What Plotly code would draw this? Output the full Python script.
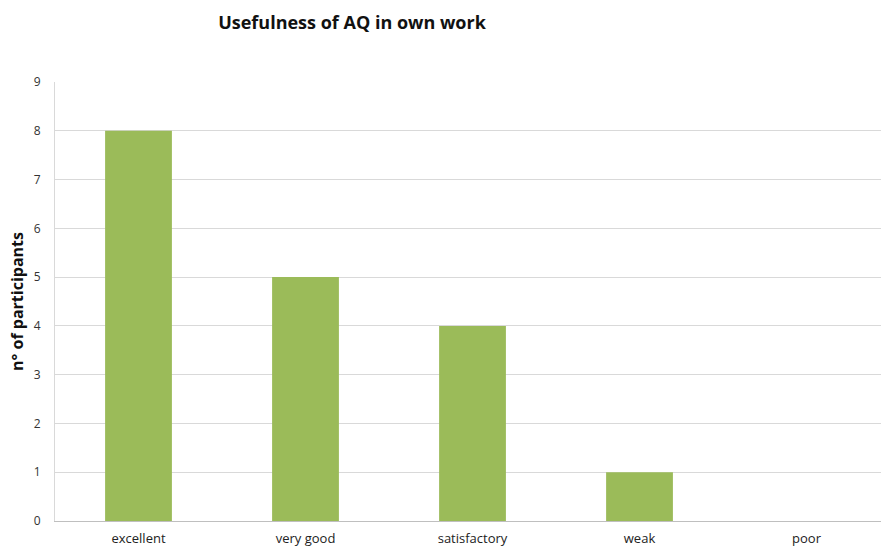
import plotly.graph_objects as go

categories = ["excellent", "very good", "satisfactory", "weak", "poor"]
participants = [8, 5, 4, 1, 0]
y_ticks = list(range(0, 10))

fig = go.Figure()
fig.add_trace(go.Bar(
    x=categories, y=participants, width=0.4,
    marker=dict(color="#9BBB59", line=dict(width=0)),
))

fig.update_layout(
    width=881, height=550,
    margin=dict(l=55, r=0, t=82, b=29),
    paper_bgcolor="white", plot_bgcolor="white",
    font=dict(family="Open Sans, Liberation Sans, sans-serif", size=12, color="#333333"),
    title=dict(text="<b>Usefulness of AQ in own work</b>", x=352/881, xanchor="center",
               xref="container", y=1 - 23/550, yanchor="middle",
               font=dict(size=18, color="#111111")),
    showlegend=False,
    bargap=0.6,
)
fig.update_xaxes(
    type="category", range=[-0.5, 4.446], automargin=False,
    showline=True, linecolor="#BFBFBF", linewidth=1,
    ticks="outside", ticklen=5, tickcolor="rgba(0,0,0,0)",
    tickfont=dict(size=13, color="#222222"),
    showgrid=False,
)
fig.update_yaxes(
    range=[0, 9], tickvals=y_ticks, automargin=False,
    showgrid=True, gridcolor="#D9D9D9", gridwidth=1,
    showline=True, linecolor="#D9D9D9", linewidth=1,
    ticks="outside", ticklen=11, tickcolor="rgba(0,0,0,0)",
    tickfont=dict(size=12, color="#333333"),
    title=dict(text="<b>n° of participants</b>", font=dict(size=16, color="#111111"), standoff=6),
    zeroline=False,
)

fig.write_html("out.html")
